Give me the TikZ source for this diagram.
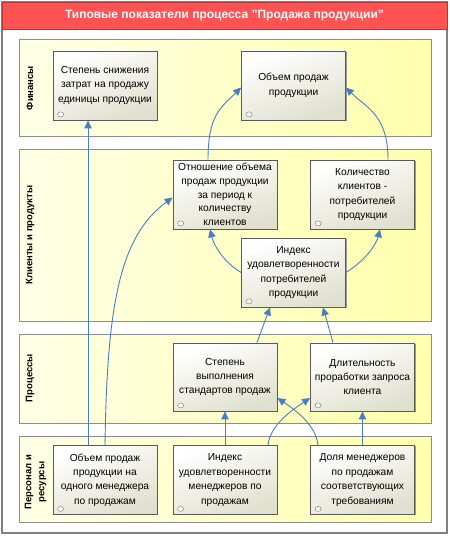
\documentclass[tikz,border=0pt]{standalone}
\usepackage{fontspec}
\setmainfont{Liberation Sans}
\usepackage{tikz}
\usetikzlibrary{arrows.meta,shadows}

\definecolor{titlered}{RGB}{255,82,82}
\definecolor{laneyellow}{RGB}{255,255,172}
\definecolor{boxbeige}{RGB}{224,224,206}
\definecolor{linkblue}{RGB}{74,126,196}

\tikzset{
  kpi/.style={draw=black!65, line width=0.8pt, top color=white, bottom color=boxbeige,
    shading angle=20, minimum width=104pt, minimum height=69pt, align=center,
    font=\fontsize{10.2}{14.4}\selectfont, inner sep=2pt,
    drop shadow={shadow xshift=1pt, shadow yshift=-1pt, fill=black!40, opacity=1}},
  lane/.style={draw=black!45, line width=1pt, left color=laneyellow!30!white,
    middle color=laneyellow, right color=laneyellow},
  lanetitle/.style={rotate=90, align=center, font=\fontsize{9.5}{13}\selectfont\bfseries},
  link/.style={linkblue, line width=0.9pt, -{Triangle[length=8pt,width=7.5pt]}},
}

\begin{document}
\begin{tikzpicture}[x=1pt,y=1pt]
\useasboundingbox (0,0) rectangle (450,536);
\draw [black!50, line width=1.5pt, fill=white] (2,3) rectangle (447,534);% frame
\draw [titlered!70!black, fill=titlered] (2,507) rectangle (447,534);% title bar
\node [white, font=\fontsize{12}{14}\selectfont\bfseries] (title) at (224.5,520.5)
      {Типовые показатели процесса "Продажа продукции"};
% lanes
\draw [lane] (19,399) rectangle (431,496);
\draw [lane] (19,214) rectangle (431,386);
\draw [lane] (19,112) rectangle (431,201);
\draw [lane] (19,13) rectangle (431,99);
\node [lanetitle] (fin) at (30,448) {Финансы};
\node [lanetitle] (cli) at (30,301) {Клиенты и продукты};
\node [lanetitle] (proc) at (30,158) {Процессы};
\node [lanetitle] (pers) at (35.5,54) {Персонал и\\ресурсы};
% indicators
\node [kpi] (f1) at (105,450.5) {Степень снижения\\затрат на продажу\\единицы продукции};
\node [kpi] (f2) at (293.5,450.5) {Объем продаж\\продукции};
\node [kpi, inner ysep=0pt, font=\fontsize{10.2}{13.6}\selectfont] (k1) at (225,341.5)
      {Отношение объема\\продаж продукции\\за период к\\количеству\\клиентов};
\node [kpi] (k2) at (362.5,341.5) {Количество\\клиентов -\\потребителей\\продукции};
\node [kpi] (k3) at (293.5,263.5) {Индекс\\удовлетворенности\\потребителей\\продукции};
\node [kpi, minimum height=68pt] (p1) at (225,159) {Степень\\выполнения\\стандартов продаж};
\node [kpi, minimum height=68pt] (p2) at (362.5,159) {Длительность\\проработки запроса\\клиента};
\node [kpi] (r1) at (105,56) {Объем продаж\\продукции на\\одного менеджера\\по продажам};
\node [kpi] (r2) at (225,56) {Индекс\\удовлетворенности\\менеджеров по\\продажам};
\node [kpi] (r3) at (362.5,56) {Доля менеджеров\\по продажам\\соответствующих\\требованиям};
\foreach \b in {f1,f2,k1,k2,k3,p1,p2,r1,r2,r3}{% status mark
  \draw [black!55, fill=white] ([shift={(8,6)}]\b.south west) ellipse (3pt and 2.5pt);}
% links
\draw [link] ([xshift=-17pt]r1.north) -- ([xshift=-17pt]f1.south);
\draw [link] (r1.north) .. controls +(2,140) and +(-53,-39) .. ([yshift=-3pt]k1.west);
\draw [link] ([xshift=-17pt]k1.north) .. controls +(0,45) and +(-20,-20) .. ([yshift=-2pt]f2.west);
\draw [link] ([xshift=25.5pt]k2.north) .. controls +(0,45) and +(20,-20) .. ([yshift=-2pt]f2.east);
\draw [link] (k3.west) .. controls +(-18,11) and +(4,-16) .. ([xshift=-15pt]k1.south);
\draw [link] (k3.east) .. controls +(18,11) and +(-4,-16) .. ([xshift=17.5pt]k2.south);
\draw [link] ([xshift=32pt]p1.north) -- ([xshift=-23.5pt]k3.south);
\draw [link] ([xshift=-29.5pt]p2.north) -- ([xshift=29.5pt]k3.south);
\draw [link] (r2.north) -- (p1.south);
\draw [link] (r3.north) -- (p2.south);
\draw [link] ([xshift=43pt]r2.north) .. controls +(2,20) and +(-18,-12) .. ([yshift=-21pt]p2.west);
\draw [link] ([xshift=-44.5pt]r3.north) .. controls +(-2,20) and +(18,-12) .. ([yshift=-21pt]p1.east);
\end{tikzpicture}
\end{document}
